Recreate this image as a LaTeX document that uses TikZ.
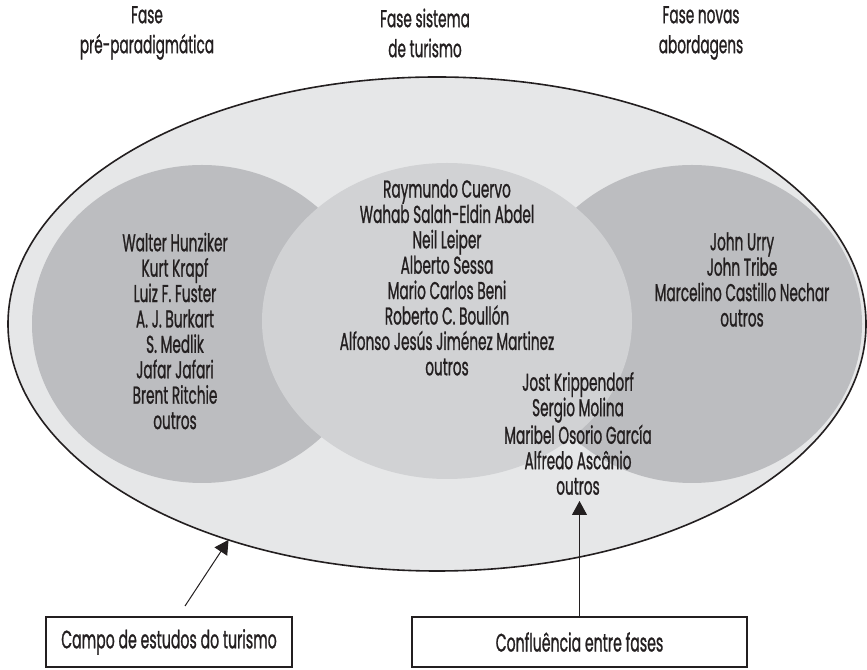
\documentclass[tikz,border=0pt]{standalone}
\usepackage{fontspec}
\newfontfamily\namefont{Poppins}[FakeStretch=0.56,FakeBold=0.9]
\usepackage{tikz}
\usetikzlibrary{positioning, arrows.meta, shapes.geometric}
\definecolor{fieldgray}{HTML}{E6E7E8}
\definecolor{sidegray}{HTML}{BCBDC0}
\definecolor{midgray}{HTML}{D1D2D4}
\definecolor{inkgray}{HTML}{231F20}

\begin{document}
\begin{tikzpicture}[x=0.5pt,y=0.5pt,
  phase/.style={ellipse,inner sep=0pt,outer sep=0pt},
  names/.style={align=center,text=inkgray,font=\namefont\fontsize{12.2pt}{12.7pt}\selectfont},
  heading/.style={align=center,text=inkgray,font=\namefont\fontsize{12.2pt}{15pt}\selectfont},
  labelbox/.style={draw=inkgray,line width=0.6pt,minimum height=25pt,text=inkgray,font=\namefont\fontsize{12.6pt}{13pt}\selectfont},
  pointer/.style={-{Triangle[length=7pt,width=7.5pt]},line width=0.5pt,draw=inkgray}]
\useasboundingbox (0,0) rectangle (867,669);
% field and phases
\node[phase,draw=inkgray,line width=0.8pt,fill=fieldgray,minimum width=429pt,minimum height=247pt] (field) at (437,345) {};
\node[phase,fill=sidegray,minimum width=170pt,minimum height=159pt] (prephase) at (202,345) {};
\node[phase,fill=sidegray,minimum width=170pt,minimum height=159pt] (newphase) at (692,345) {};
\node[phase,fill=midgray,minimum width=185pt,minimum height=158pt] (sysphase) at (447,348) {};
% headings
\node[heading] (preparad) at (147,636) {Fase\\pré-paradigmática};
\node[heading] (sistema) at (425,636) {Fase sistema\\de turismo};
\node[heading] (novas) at (701,636) {Fase novas\\abordagens};
% authors
\node[names] (prenames) at (175,338) {Walter Hunziker\\Kurt Krapf\\Luiz F. Fuster\\A. J. Burkart\\S. Medlik\\Jafar Jafari\\Brent Ritchie\\outros};
\node[names] (sysnames) at (447,391.5) {Raymundo Cuervo\\Wahab Salah-Eldin Abdel\\Neil Leiper\\Alberto Sessa\\Mario Carlos Beni\\Roberto C. Boullón\\Alfonso Jesús Jiménez Martinez\\outros};
\node[names] (mixnames) at (578,235.5) {Jost Krippendorf\\Sergio Molina\\Maribel Osorio García\\Alfredo Ascânio\\outros};
\node[names] (newnames) at (742,389.5) {John Urry\\John Tribe\\Marcelino Castillo Nechar\\outros};
% labels
\node[labelbox,minimum width=123pt] (campo) at (169,27) {Campo de estudos do turismo};
\node[labelbox,minimum width=167.5pt] (confl) at (579.5,27) {Confluência entre fases};
\coordinate (campotail) at (185,63);
\coordinate (confltip) at (579.5,168);
\draw[pointer] (campotail) -- (field.226.5);
\draw[pointer] (confl.north) -- (confltip);
\end{tikzpicture}
\end{document}
